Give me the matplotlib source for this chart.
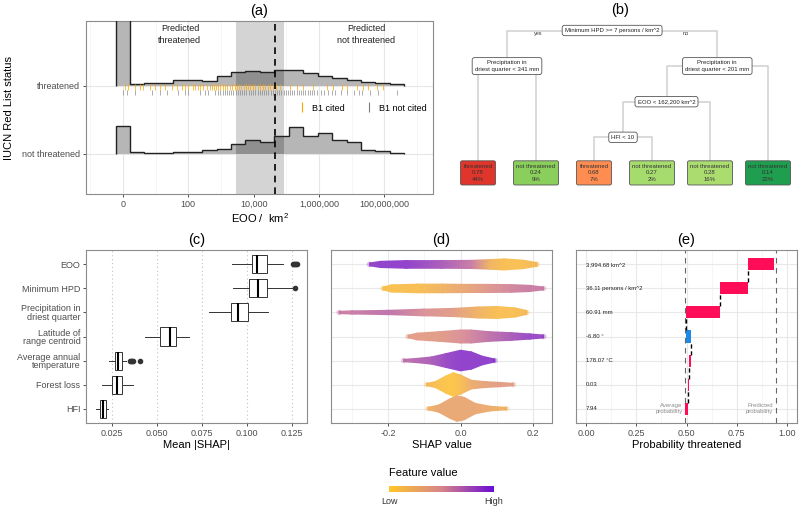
import numpy as np
import matplotlib
matplotlib.use("Agg")
import matplotlib.pyplot as plt
from matplotlib.colors import LinearSegmentedColormap
from matplotlib.lines import Line2D
from matplotlib.patches import Rectangle
from matplotlib.cm import ScalarMappable

plt.rcParams['font.family'] = ['Liberation Sans', 'DejaVu Sans']
plt.rcParams['axes.unicode_minus'] = False
plt.rcParams['mathtext.fontset'] = 'custom'
plt.rcParams['mathtext.rm'] = 'Liberation Sans'

# ---------------- (a) EOO ridges, x = log10(EOO + 1)
eoo_ticks = [0, 2, 4, 6, 8]
eoo_labels = ['0', '100', '10,000', '1,000,000', '100,000,000']
eoo_zero_bin = [-0.227, 0.215]
eoo_bin_width = 0.442
eoo_nbins = 19
# bar heights (first value = the EOO 0 bar)
thr_heights = [100, 1.7, 2.7, 2.7, 5.7, 5.7, 5.0, 10.3, 13.5, 14.5, 14.3, 15.7,
               15.5, 12.8, 10.3, 7.5, 5.5, 4.2, 2.7, 1.5]
nthr_heights = [27.7, 1.7, 0.7, 1.0, 2.3, 2.3, 4.3, 5.0, 10.0, 14.3, 12.3, 18.3,
                27.0, 18.0, 21.0, 14.3, 12.0, 4.3, 2.7, 1.0]
ridge_scale = 1 / 68.0
eoo_cut = 4.65
eoo_band = [3.46, 4.93]
rug_b1_cited = [0.06, 0.16, 0.37, 0.52, 0.62, 0.83, 0.98, 1.13, 1.29, 1.49, 1.64, 1.80,
                1.90, 2.00, 2.15, 2.20, 2.31, 2.36, 2.46, 2.56, 2.67, 2.72, 2.78, 2.85,
                2.92, 2.98, 3.05, 3.12, 3.20, 3.27, 3.35, 3.42, 3.48, 3.55, 3.62, 3.70,
                3.76, 3.83, 3.90, 3.97, 4.05, 4.12, 4.20, 4.28, 4.35, 4.43, 4.50, 4.60,
                4.70, 4.82, 5.11, 5.32, 5.52, 5.83, 6.24, 6.44, 6.69, 6.85, 7.15, 7.36,
                7.51, 7.77, 7.97]
rug_b1_not = [0.01, 0.11, 0.37, 0.89, 1.13, 1.34, 1.69, 1.90, 2.00, 2.36, 2.51, 2.61,
              2.82, 2.90, 2.97, 3.05, 3.12, 3.18, 3.25, 3.32, 3.38, 3.45, 3.52, 3.58,
              3.65, 3.72, 3.78, 3.85, 3.92, 3.98, 4.05, 4.12, 4.18, 4.25, 4.32, 4.38,
              4.45, 4.52, 4.58, 4.65, 4.72, 4.78, 4.85, 4.92, 4.98, 5.05, 5.12, 5.18,
              5.25, 5.32, 5.38, 5.45, 5.52, 5.58, 5.65, 5.72, 5.78, 5.85, 5.95, 6.05,
              6.15, 6.29, 6.40, 6.50, 6.66, 6.85, 7.06, 7.21, 7.31, 7.56, 7.82, 8.38]

# ---------------- (b) tree
tree_children = {'root': ['pl', 'pr'], 'pl': ['L1', 'L2'], 'pr': ['eoo', 'L6'],
                 'eoo': ['hfi', 'L5'], 'hfi': ['L3', 'L4']}
split_labels = {'root': 'Minimum HPD >= 7 persons / km^2',
                'pl': 'Precipitation in\ndriest quarter < 341 mm',
                'pr': 'Precipitation in\ndriest quarter < 201 mm',
                'eoo': 'EOO < 162,200 km^2',
                'hfi': 'HFI < 10'}
leaf_ids = ['L1', 'L2', 'L3', 'L4', 'L5', 'L6']
leaf_class = ['threatened', 'not threatened', 'threatened', 'not threatened',
              'not threatened', 'not threatened']
leaf_prob = [0.78, 0.24, 0.68, 0.27, 0.28, 0.14]
leaf_pct = [44, 9, 7, 2, 16, 22]
leaf_col = ['#E0352B', '#8ACE5C', '#FF8C50', '#A6DB6E', '#ABDC70', '#1F9E4F']

# ---------------- (c) mean |SHAP| boxplots
features = ['EOO', 'Minimum HPD', 'Precipitation in\ndriest quarter',
            'Latitude of\nrange centroid', 'Average annual\ntemperature',
            'Forest loss', 'HFI']
ms_whislo = [0.0915, 0.0920, 0.0789, 0.0433, 0.0233, 0.0194, 0.0161]
ms_q1 = [0.1030, 0.1013, 0.0913, 0.0519, 0.0267, 0.0248, 0.0183]
ms_med = [0.1056, 0.1063, 0.0950, 0.0570, 0.0285, 0.0280, 0.0198]
ms_q3 = [0.1113, 0.1113, 0.1006, 0.0607, 0.0306, 0.0307, 0.0215]
ms_whishi = [0.1202, 0.1257, 0.1119, 0.0680, 0.0328, 0.0369, 0.0230]
ms_fliers = [[0.1255, 0.1260, 0.1265, 0.1270, 0.1275], [0.1269], [], [],
             [0.0350, 0.0355, 0.0360, 0.0366, 0.0406], [], []]

# ---------------- (d) SHAP beeswarm outline: x, half width (rows), feature value
sw_x = [[-0.251, -0.22, -0.15, -0.05, 0.03, 0.08, 0.12, 0.17, 0.211],
        [-0.214, -0.19, -0.12, -0.05, 0.03, 0.08, 0.14, 0.19, 0.229],
        [-0.335, -0.30, -0.20, -0.10, -0.02, 0.05, 0.10, 0.15, 0.183],
        [-0.145, -0.12, -0.06, 0.0, 0.03, 0.08, 0.14, 0.19, 0.229],
        [-0.157, -0.12, -0.08, -0.04, 0.0, 0.03, 0.06, 0.095],
        [-0.094, -0.07, -0.04, -0.02, 0.0, 0.03, 0.07, 0.11, 0.146],
        [-0.090, -0.06, -0.03, -0.01, 0.01, 0.04, 0.08, 0.127]]
sw_hw = [[0.06, 0.13, 0.16, 0.16, 0.17, 0.2, 0.23, 0.18, 0.08],
         [0.06, 0.15, 0.18, 0.18, 0.17, 0.17, 0.16, 0.13, 0.06],
         [0.05, 0.065, 0.09, 0.14, 0.17, 0.23, 0.25, 0.19, 0.08],
         [0.05, 0.14, 0.2, 0.27, 0.27, 0.2, 0.16, 0.11, 0.06],
         [0.05, 0.09, 0.15, 0.29, 0.43, 0.36, 0.18, 0.06],
         [0.05, 0.12, 0.36, 0.49, 0.4, 0.18, 0.12, 0.09, 0.05],
         [0.05, 0.15, 0.4, 0.53, 0.47, 0.22, 0.1, 0.05]]
sw_val = [[0.85, 0.9, 0.9, 0.75, 0.6, 0.2, 0.1, 0.1, 0.15],
          [0.1, 0.08, 0.1, 0.2, 0.35, 0.45, 0.55, 0.6, 0.6],
          [0.6, 0.6, 0.65, 0.5, 0.4, 0.2, 0.1, 0.1, 0.15],
          [0.4, 0.4, 0.4, 0.5, 0.55, 0.65, 0.75, 0.85, 0.85],
          [0.65, 0.7, 0.75, 0.85, 0.9, 0.9, 0.9, 0.9],
          [0.15, 0.1, 0.05, 0.05, 0.1, 0.25, 0.35, 0.4, 0.4],
          [0.2, 0.3, 0.3, 0.3, 0.3, 0.3, 0.25, 0.2]]

# ---------------- (e) waterfall for one species
obs_labels = ['3,994.68 km^2', '36.11 persons / km^2', '60.91 mm', '-6.80 \u00b0',
              '178.07 \u00b0C', '0.03', '7.94']
contrib = [0.130, 0.142, 0.168, -0.022, 0.008, 0.007, 0.012]
avg_prob = 0.493
pred_prob = 0.944

feat_cmap = LinearSegmentedColormap.from_list('feat', ['#FFC629', '#D6848A', '#6A0BD4'])
# the swarm points are drawn half transparent over white
swarm_cmap = LinearSegmentedColormap.from_list('swarm', ['#FFCB45', '#DC949A', '#8030DA'])
rows = np.arange(len(features), 0, -1)

fig = plt.figure(figsize=(8, 5.09), dpi=100)
W, H = 800.0, 509.0


def px_axes(x0, y0, x1, y1):
    return fig.add_axes([x0 / W, 1 - y1 / H, (x1 - x0) / W, (y1 - y0) / H])


def gg(ax):
    for s in ax.spines.values():
        s.set_color('#8C8C8C')
        s.set_linewidth(0.8)
    ax.tick_params(which='major', colors='#333333', labelcolor='#4D4D4D',
                   labelsize=6.5, length=2.5, width=0.6, pad=1.5)
    ax.tick_params(which='minor', length=0)
    ax.set_axisbelow(True)


# ===================== (a)
ax = px_axes(86, 21, 433, 194)
gg(ax)
edges = [eoo_zero_bin[0]] + [eoo_zero_bin[1] + eoo_bin_width * k for k in range(eoo_nbins + 1)]
ax.set_xlim(-1.13, 9.49)
ax.set_ylim(0.41, 2.956)
ax.set_xticks(eoo_ticks)
ax.set_xticklabels(eoo_labels)
ax.set_xticks([-1, 1, 3, 5, 7, 9], minor=True)
ax.set_yticks([1, 2])
ax.set_yticklabels(['not threatened', 'threatened'])
ax.grid(which='major', color='#E6E6E6', lw=0.8)
ax.grid(which='minor', axis='x', color='#F2F2F2', lw=0.5)

band = Rectangle((eoo_band[0], 0), eoo_band[1] - eoo_band[0], 4, color='#D4D4D4', zorder=1, lw=0)
ax.add_patch(band)
for base, hts in [(1, nthr_heights), (2, thr_heights)]:
    vals = base + np.array(hts) * ridge_scale
    ax.stairs(vals, edges, baseline=base, fill=True, color='#B6B6B6', zorder=2)
    dark = ax.stairs(vals, edges, baseline=base, fill=True, color='#8F8F8F', zorder=2.1)
    dark.set_clip_path(band)
    ax.stairs(vals, edges, baseline=base, fill=False, color='#222222', lw=1.0, zorder=3)

ax.vlines(rug_b1_cited, 1.94, 2.03, color='#FFA500', lw=0.6, alpha=0.85, zorder=4)
ax.vlines(rug_b1_not, 1.87, 1.94, color='#7F7F7F', lw=0.6, alpha=0.75, zorder=4)
ax.axvline(eoo_cut, color='black', ls=(0, (4, 3)), lw=1.2, zorder=5)
ax.text(1.745, 2.76, 'Predicted\nthreatened', ha='center', va='center', fontsize=6.5,
        color='#222222', linespacing=1.35)
ax.text(7.44, 2.76, 'Predicted\nnot threatened', ha='center', va='center', fontsize=6.5,
        color='#222222', linespacing=1.35)
hl = [Line2D([], [], color='#FFA500', marker='|', ls='None', markersize=7, mew=0.8),
      Line2D([], [], color='#7F7F7F', marker='|', ls='None', markersize=7, mew=0.8)]
ax.legend(hl, ['B1 cited', 'B1 not cited'], loc='center', bbox_to_anchor=(0.795, 0.497),
          ncol=2, frameon=False, fontsize=6.5, handletextpad=0.6, columnspacing=2.2,
          handlelength=1.0)
ax.set_title('(a)', fontsize=10.5, pad=4)
ax.set_xlabel('EOO /  km$^2$', fontsize=8, labelpad=2)
ax.set_ylabel('IUCN Red List status', fontsize=8, labelpad=6)

# ===================== (b)
axb = px_axes(440, 0, 800, 200)
axb.set_xlim(440, 800)
axb.set_ylim(200, 0)
axb.axis('off')
leaf_x0, leaf_dx = 478, 58
level_y0, level_dy = 30.5, 35.6
pos = {}
leaf_iter = iter(range(len(leaf_ids)))


def place(node, depth):
    if node in leaf_ids:
        pos[node] = (leaf_x0 + leaf_dx * next(leaf_iter), level_y0 + level_dy * 4)
    else:
        xs = [place(c, depth + 1) for c in tree_children[node]]
        pos[node] = (np.mean(xs), level_y0 + level_dy * depth)
    return pos[node][0]


place('root', 0)
for par, kids in tree_children.items():
    px_, py_ = pos[par]
    for k in kids:
        cx, cy = pos[k]
        axb.plot([cx, cx, px_], [cy, py_, py_], color='#CFCFCF', lw=1.1, zorder=1)
for node, lab in split_labels.items():
    x, y = pos[node]
    axb.text(x, y, lab, ha='center', va='center', fontsize=4.3, color='#222222',
             linespacing=1.4, zorder=3,
             bbox=dict(boxstyle='round,pad=0.45,rounding_size=0.4', fc='white',
                       ec='#555555', lw=0.6))
for i, lid in enumerate(leaf_ids):
    x, y = pos[lid]
    axb.text(x, y, '%s\n%.2f\n%d%%' % (leaf_class[i], leaf_prob[i], leaf_pct[i]),
             ha='center', va='center', fontsize=4.3, color='#333333', linespacing=1.4,
             zorder=3, bbox=dict(boxstyle='round,pad=0.5,rounding_size=0.3',
                                 fc=leaf_col[i], ec='#555555', lw=0.6))
rx, ry = pos['root']
axb.text(rx - 74, ry + 3, 'yes', ha='center', va='center', fontsize=4, color='#333333')
axb.text(rx + 74, ry + 3, 'no', ha='center', va='center', fontsize=4, color='#333333')
axb.text(0.5, 0.95, '(b)', transform=axb.transAxes, ha='center', va='center', fontsize=10.5)

# ===================== (c)
axc = px_axes(86, 250, 307, 423)
gg(axc)
stats = [dict(whislo=ms_whislo[i], q1=ms_q1[i], med=ms_med[i], q3=ms_q3[i],
              whishi=ms_whishi[i], fliers=ms_fliers[i]) for i in range(len(features))]
axc.bxp(stats, positions=rows, orientation='horizontal', widths=0.75, patch_artist=True,
        showcaps=False,
        boxprops=dict(facecolor='white', edgecolor='#333333', lw=0.7),
        whiskerprops=dict(color='#333333', lw=0.7),
        medianprops=dict(color='black', lw=1.5),
        flierprops=dict(marker='o', markerfacecolor='#333333', markeredgecolor='#333333',
                        markersize=3))
axc.set_xlim(0.0106, 0.1333)
axc.set_ylim(0.4, 7.6)
axc.set_xticks([0.025, 0.05, 0.075, 0.1, 0.125])
axc.set_xticklabels(['0.025', '0.050', '0.075', '0.100', '0.125'])
axc.set_yticks(rows)
axc.set_yticklabels(features, linespacing=0.95)
axc.grid(axis='x', color='#C4C4C4', ls=(0, (1, 2.5)), lw=0.8)
axc.set_title('(c)', fontsize=10.5, pad=4)
axc.set_xlabel('Mean |SHAP|', fontsize=8, labelpad=2)

# ===================== (d)
axd = px_axes(331, 250, 552, 423)
gg(axd)
axd.set_xlim(-0.357, 0.252)
axd.set_ylim(0.4, 7.6)
axd.set_xticks([-0.2, 0.0, 0.2])
axd.set_xticklabels(['-0.2', '0.0', '0.2'])
axd.set_xticks([-0.3, -0.1, 0.1], minor=True)
axd.set_yticks(rows)
axd.set_yticklabels([])
axd.tick_params(axis='y', length=0)
axd.grid(which='major', color='#E8E8E8', lw=0.8)
axd.grid(which='minor', axis='x', color='#F2F2F2', lw=0.5)
for i in range(len(features)):
    xs = np.array(sw_x[i])
    hw = np.array(sw_hw[i])
    v = np.array(sw_val[i])
    X = np.vstack([xs, xs])
    Y = np.vstack([rows[i] - hw, rows[i] + hw])
    C = np.vstack([v, v])
    axd.pcolormesh(X, Y, C, shading='gouraud', cmap=swarm_cmap, vmin=0, vmax=1,
                   zorder=2, edgecolors='none', antialiased=False)
    axd.scatter([xs[0], xs[-1]], [rows[i], rows[i]], s=16, c=[v[0], v[-1]],
                cmap=feat_cmap, vmin=0, vmax=1, alpha=0.3, lw=0, zorder=2)
axd.set_title('(d)', fontsize=10.5, pad=4)
axd.set_xlabel('SHAP value', fontsize=8, labelpad=2)

# ===================== (e)
axe = px_axes(576, 250, 797, 423)
gg(axe)
axe.set_xlim(-0.05, 1.05)
axe.set_ylim(0.4, 7.6)
axe.set_xticks([0, 0.25, 0.5, 0.75, 1.0])
axe.set_xticklabels(['0.00', '0.25', '0.50', '0.75', '1.00'])
axe.set_xticks([0.125, 0.375, 0.625, 0.875], minor=True)
axe.set_yticks(rows)
axe.set_yticklabels([])
axe.tick_params(axis='y', length=0)
axe.grid(which='major', color='#E8E8E8', lw=0.8)
axe.grid(which='minor', axis='x', color='#F2F2F2', lw=0.5)
c_rev = np.array(contrib[::-1])
ends = avg_prob + np.cumsum(c_rev)
starts = ends - c_rev
rows_rev = rows[::-1]
axe.barh(rows_rev, c_rev, left=starts, height=0.5,
         color=np.where(c_rev > 0, '#FF0D57', '#1E88E5'), zorder=3)
axe.vlines(ends[:-1], rows_rev[:-1] + 0.25, rows_rev[1:] - 0.25, color='black',
           ls=(0, (3, 2)), lw=1.0, zorder=4)
axe.axvline(avg_prob, color='#666666', ls=(0, (5, 4)), lw=0.8, zorder=2)
axe.axvline(pred_prob, color='#666666', ls=(0, (5, 4)), lw=0.8, zorder=2)
for i, lab in enumerate(obs_labels):
    axe.text(0.0, rows[i], lab, ha='left', va='center', fontsize=4.3, color='#222222')
axe.text(avg_prob - 0.012, rows[-1], 'Average\nprobability', ha='right', va='center',
         fontsize=4.3, color='#8C8C8C', linespacing=1.3)
axe.text(pred_prob - 0.012, rows[-1], 'Predicted\nprobability', ha='right', va='center',
         fontsize=4.3, color='#8C8C8C', linespacing=1.3)
axe.set_title('(e)', fontsize=10.5, pad=4)
axe.set_xlabel('Probability threatened', fontsize=8, labelpad=2)

# ===================== colour legend
cax = px_axes(389, 486, 494, 492)
cb = fig.colorbar(ScalarMappable(cmap=feat_cmap), cax=cax, orientation='horizontal')
cb.outline.set_visible(False)
cb.set_ticks([])
fig.text(389 / W, 1 - 473 / H, 'Feature value', ha='left', va='center', fontsize=8)
fig.text(389 / W, 1 - 501 / H, 'Low', ha='center', va='center', fontsize=6.5, color='#333333')
fig.text(494 / W, 1 - 501 / H, 'High', ha='center', va='center', fontsize=6.5, color='#333333')

fig.savefig('out.png', dpi=100)
